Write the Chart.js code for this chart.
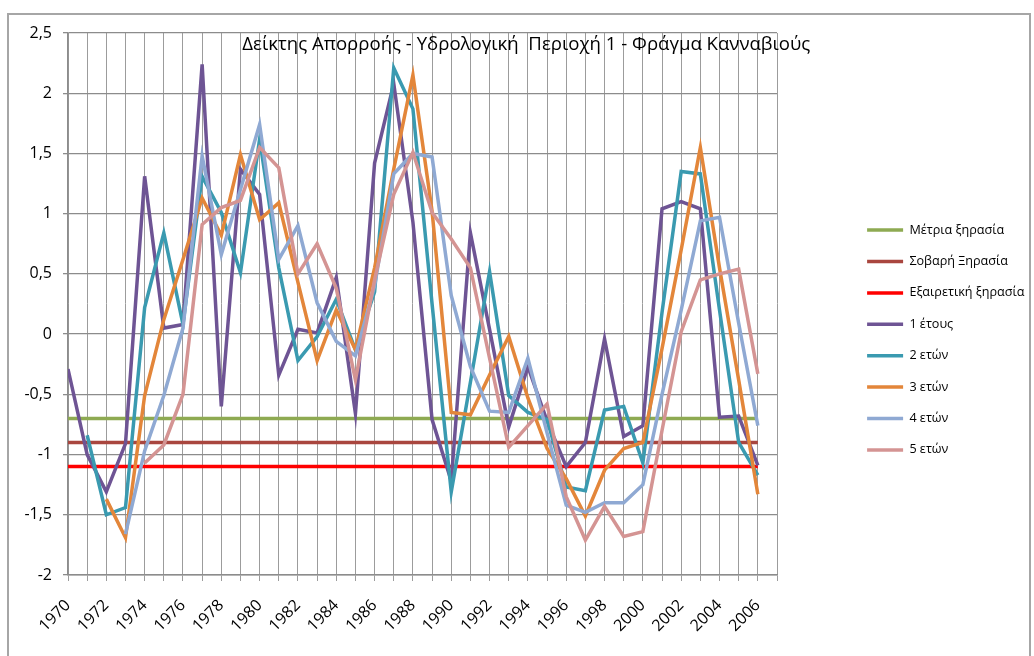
<!DOCTYPE html>
<html><head><meta charset="utf-8">
<script src="https://cdn.jsdelivr.net/npm/chart.js@4.4.1/dist/chart.umd.min.js"></script>
<style>
html,body{margin:0;padding:0;background:#fff;overflow:hidden}
#wrap{position:absolute;left:0;top:0;width:1034px;height:656px}
#frame{position:absolute;left:7px;top:13px;width:1024px;height:700px;border:2px solid #a6a6a6;box-sizing:border-box;pointer-events:none}
canvas{position:absolute;left:0;top:0}
</style></head>
<body>
<div id="wrap"><canvas id="c" width="1034" height="656"></canvas><div id="frame"></div></div>
<script>
const titleText = 'Δείκτης Απορροής - Υδρολογική  Περιοχή 1 - Φράγμα Κανναβιούς';
const years = [1970,1971,1972,1973,1974,1975,1976,1977,1978,1979,1980,1981,1982,1983,1984,1985,1986,1987,1988,1989,1990,1991,1992,1993,1994,1995,1996,1997,1998,1999,2000,2001,2002,2003,2004,2005,2006];
const tickLabels = ['1970','1972','1974','1976','1978','1980','1982','1984','1986','1988','1990','1992','1994','1996','1998','2000','2002','2004','2006'];
const yTicks = [-2,-1.5,-1,-0.5,0,0.5,1,1.5,2,2.5];

const thresholdSpan = [1970, 2006];
const moderateDrought = [-0.7, -0.7];
const severeDrought = [-0.9, -0.9];
const extremeDrought = [-1.1, -1.1];

const oneYear = [-0.29,-1.0,-1.31,-0.91,1.31,0.05,0.08,2.24,-0.6,1.37,1.16,-0.34,0.04,0.01,0.47,-0.66,1.42,2.08,0.93,-0.71,-1.22,0.84,0.04,-0.77,-0.27,-0.72,-1.1,-0.9,-0.04,-0.85,-0.76,1.04,1.1,1.04,-0.69,-0.68,-1.09];
const twoYears = [null,-0.84,-1.5,-1.44,0.22,0.84,0.08,1.31,1.01,0.51,1.62,0.55,-0.22,-0.02,0.29,-0.13,0.35,2.21,1.87,0.25,-1.31,-0.4,0.52,-0.51,-0.65,-0.71,-1.27,-1.3,-0.63,-0.6,-1.07,0.18,1.35,1.33,0.2,-0.9,-1.17];
const threeYears = [null,null,-1.37,-1.69,-0.51,0.12,0.62,1.13,0.82,1.49,0.95,1.09,0.43,-0.22,0.2,-0.13,0.55,1.37,2.15,1.02,-0.65,-0.67,-0.34,-0.02,-0.53,-0.95,-1.2,-1.51,-1.13,-0.95,-0.9,-0.12,0.7,1.55,0.55,-0.38,-1.33];
const fourYears = [null,null,null,-1.66,-0.97,-0.51,0.05,1.48,0.66,1.2,1.74,0.62,0.9,0.26,-0.06,-0.18,0.4,1.33,1.5,1.47,0.32,-0.27,-0.64,-0.65,-0.2,-0.82,-1.42,-1.48,-1.4,-1.4,-1.25,-0.5,0.2,0.94,0.97,0.09,-0.76];
const fiveYears = [null,null,null,null,-1.07,-0.92,-0.5,0.91,1.05,1.11,1.55,1.38,0.5,0.75,0.38,-0.38,0.45,1.16,1.51,1.01,0.79,0.55,-0.2,-0.94,-0.76,-0.58,-1.35,-1.71,-1.43,-1.68,-1.64,-0.8,0.02,0.45,0.5,0.54,-0.33];

const seriesNames = ['Μέτρια ξηρασία','Σοβαρή Ξηρασία','Εξαιρετική ξηρασία','1 έτους','2 ετών','3 ετών','4 ετών','5 ετών'];
const seriesColors = ['#8EAA52','#A9463F','#FF0000','#6E5494','#3A9AB0','#E3863A','#8FA9D3','#D49493'];

const FONT = '"Open Sans", "Noto Sans", sans-serif';
const toPts = (xs, ys) => xs.map((x, i) => ({x: x, y: ys[i]}));
const seriesValues = [
  toPts(thresholdSpan, moderateDrought),
  toPts(thresholdSpan, severeDrought),
  toPts(thresholdSpan, extremeDrought),
  toPts(years, oneYear),
  toPts(years, twoYears),
  toPts(years, threeYears),
  toPts(years, fourYears),
  toPts(years, fiveYears)
];

const titlePlugin = {
  id: 'titleText',
  afterDraw(chart) {
    const ctx = chart.ctx;
    ctx.save();
    ctx.font = '18.6px ' + FONT;
    ctx.fillStyle = '#000';
    ctx.textAlign = 'center';
    ctx.textBaseline = 'middle';
    ctx.fillText(titleText, chart.width * 0.509, 45);
    ctx.restore();
  }
};

new Chart(document.getElementById('c'), {
  type: 'line',
  data: {
    datasets: seriesValues.map((d, i) => ({
      label: seriesNames[i],
      data: d,
      borderColor: seriesColors[i],
      backgroundColor: seriesColors[i],
      borderWidth: 3.5,
      pointRadius: 0,
      tension: 0,
      fill: false,
      order: 20 - i
    }))
  },
  options: {
    responsive: false,
    animation: false,
    events: [],
    layout: { padding: { top: 33, left: 0, right: 0, bottom: 9 } },
    plugins: {
      tooltip: { enabled: false },
      title: { display: false },
      legend: {
        position: 'right',
        align: 'center',
        maxWidth: 185.7,
        labels: {
          usePointStyle: true,
          pointStyle: 'line',
          pointStyleWidth: 36,
          padding: 18.8,
          color: '#000',
          font: { family: FONT, size: 12.6 },
          sort: (a, b) => a.datasetIndex - b.datasetIndex
        }
      }
    },
    scales: {
      x: {
        type: 'linear',
        min: 1970,
        max: 2007,
        afterFit: s => { s.height = 72; },
        afterBuildTicks: s => { s.ticks = years.concat([2007]).map(v => ({value: v})); },
        grid: { color: '#9c9c9c', lineWidth: 1, tickLength: 6 },
        border: { color: '#8c8c8c', width: 1.5 },
        ticks: {
          autoSkip: false,
          minRotation: 45,
          maxRotation: 45,
          padding: 15,
          color: '#000',
          font: { family: FONT, size: 16 },
          callback: v => tickLabels.includes(String(v)) ? String(v) : ''
        }
      },
      y: {
        min: -2,
        max: 2.5,
        afterFit: s => { s.width = 68; },
        afterBuildTicks: s => { s.ticks = yTicks.map(v => ({value: v})); },
        grid: { color: '#8c8c8c', lineWidth: 1.3, tickLength: 5 },
        border: { color: '#8c8c8c', width: 1.5 },
        ticks: {
          padding: 11,
          color: '#000',
          font: { family: FONT, size: 16 },
          callback: v => String(v).replace('.', ',')
        }
      },
      yGap: {
        position: 'right',
        display: true,
        afterFit: s => { s.width = 71.3; },
        grid: { display: false, drawOnChartArea: false },
        border: { display: false },
        ticks: { display: false }
      }
    }
  },
  plugins: [titlePlugin]
});
</script>
</body></html>
